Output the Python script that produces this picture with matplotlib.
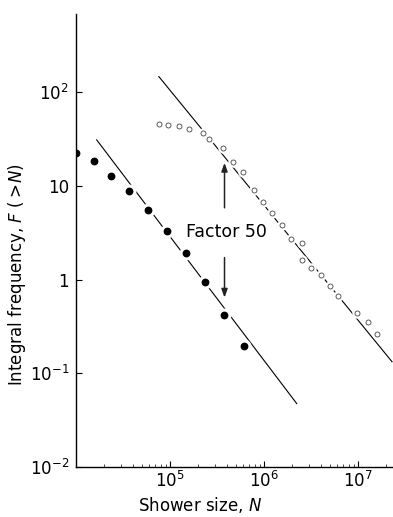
import matplotlib
matplotlib.use("Agg")
import matplotlib.pyplot as plt
from matplotlib.ticker import FixedLocator, FixedFormatter, LogLocator, NullFormatter

# Filled dots (lower data set)
lower_N = [1.0e4, 1.54e4, 2.34e4, 3.69e4, 5.79e4, 9.22e4, 1.48e5, 2.38e5, 3.78e5, 6.08e5]
lower_F = [22.8, 18.3, 12.9, 8.75, 5.49, 3.33, 1.94, 0.936, 0.423, 0.198]

# Open circles (upper data set)
upper_N = [7.64e4, 9.63e4, 1.247e5, 1.611e5, 2.22e5, 2.63e5, 3.69e5, 4.65e5, 5.98e5,
           7.83e5, 9.69e5, 1.23e6, 1.54e6, 1.96e6, 2.52e6, 2.52e6, 3.16e6, 4.04e6,
           5.04e6, 6.12e6, 9.68e6, 1.27e7, 1.60e7]
upper_F = [46.1, 44.5, 43.4, 40.3, 36.5, 31.9, 25.4, 18.1, 14.0,
           8.97, 6.71, 5.15, 3.86, 2.72, 2.48, 1.63, 1.34, 1.12,
           0.849, 0.675, 0.441, 0.354, 0.265]

# Power-law fit lines (end points)
lower_line_N = [1.66e4, 2.23e6]
lower_line_F = [31.1, 0.0475]
upper_line_N = [7.6e4, 2.30e7]
upper_line_F = [147.6, 0.133]

# "Factor 50" annotation
arrow_N = 3.8e5
up_arrow_F = [5.86, 17.7]
down_arrow_F = [1.72, 0.643]
label_N, label_F = 3.94e5, 3.27

x_ticks = [1e5, 1e6, 1e7]
x_ticklabels = [r"$10^{5}$", r"$10^{6}$", r"$10^{7}$"]
y_ticks = [1e-2, 1e-1, 1, 10, 100]
y_ticklabels = [r"$10^{-2}$", r"$10^{-1}$", "1", "10", r"$10^{2}$"]

fig = plt.figure(figsize=(3.93, 5.17), dpi=100)
ax = fig.add_axes([76/393, 50/517, 1 - 76/393, (467-14)/517])

ax.set_xscale("log")
ax.set_yscale("log")
ax.set_xlim(1e4, 10**7.372)
ax.set_ylim(1e-2, 10**2.837)

# lines
ax.plot(lower_line_N, lower_line_F, color="black", lw=0.8, zorder=1)
ax.plot(upper_line_N, upper_line_F, color="black", lw=0.8, zorder=1)

# white masks to break lines at markers
ax.plot(lower_N, lower_F, ls="none", marker="o", ms=9, mfc="white", mec="white", zorder=2)
ax.plot(upper_N, upper_F, ls="none", marker="o", ms=6.5, mfc="white", mec="white", zorder=2)

# markers
ax.plot(lower_N, lower_F, ls="none", marker="o", ms=4.6, mfc="black", mec="black", zorder=3)
ax.plot(upper_N, upper_F, ls="none", marker="o", ms=3.6, mfc="white", mec="#444444",
        mew=0.6, zorder=3)

# arrows
ap = dict(arrowstyle="-|>,head_length=0.5,head_width=0.18", color="#222222", lw=1.1,
          shrinkA=0, shrinkB=0)
ax.annotate("", xy=(arrow_N, up_arrow_F[1]), xytext=(arrow_N, up_arrow_F[0]), arrowprops=ap)
ax.annotate("", xy=(arrow_N, down_arrow_F[1]), xytext=(arrow_N, down_arrow_F[0]), arrowprops=ap)
ax.text(label_N, label_F, "Factor 50", ha="center", va="center", fontsize=12.5)

# spines
for s in ["top", "right"]:
    ax.spines[s].set_visible(False)
for s in ["left", "bottom"]:
    ax.spines[s].set_linewidth(1.0)

ax.xaxis.set_major_locator(FixedLocator(x_ticks))
ax.xaxis.set_major_formatter(FixedFormatter(x_ticklabels))
ax.xaxis.set_minor_locator(LogLocator(base=10, subs=range(2, 10)))
ax.xaxis.set_minor_formatter(NullFormatter())
ax.yaxis.set_major_locator(FixedLocator(y_ticks))
ax.yaxis.set_major_formatter(FixedFormatter(y_ticklabels))
ax.yaxis.set_minor_locator(FixedLocator([]))

ax.tick_params(axis="both", which="major", direction="in", length=4, width=0.8,
               labelsize=12)
ax.tick_params(axis="x", which="major", pad=3)
ax.tick_params(axis="y", which="major", pad=5)
ax.tick_params(axis="x", which="minor", direction="in", length=2, width=0.5)

ax.set_xlabel(r"Shower size, $N$", fontsize=12)
ax.set_ylabel(r"Integral frequency, $F$ ($>\!N$)", fontsize=12)
ax.xaxis.set_label_coords((200-76)/317, -0.062)
ax.yaxis.set_label_coords(-0.15, 0.424)

fig.savefig("out.png", dpi=100)
